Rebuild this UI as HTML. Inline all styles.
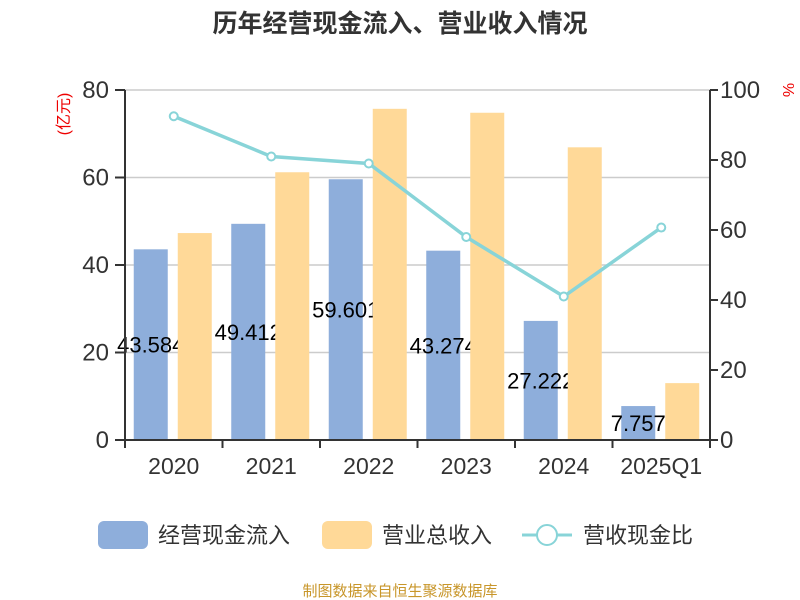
<!DOCTYPE html>
<html><head><meta charset="utf-8"><style>body{margin:0;background:#fff}svg{display:block;font-family:"Liberation Sans","Noto Sans CJK SC",sans-serif}</style></head>
<body>
<svg id="c" width="800" height="600">
<text x="400" y="32" text-anchor="middle" font-size="25" font-weight="bold" fill="#333">历年经营现金流入、营业收入情况</text>
<text transform="translate(69,114) rotate(-90)" text-anchor="middle" font-size="16" fill="#e00">(亿元)</text>
<text transform="translate(783,90) rotate(90)" text-anchor="middle" font-size="16" fill="#e00">%</text>
<g id="grid"></g><g id="bars"></g><g id="line"></g><g id="axes"></g>
<g>
<rect x="98" y="521" width="50" height="28" rx="6" fill="#8eaedb"/>
<text x="158" y="543" font-size="22" fill="#333">经营现金流入</text>
<rect x="322" y="521" width="50" height="28" rx="6" fill="#ffd998"/>
<text x="382" y="543" font-size="22" fill="#333">营业总收入</text>
<line x1="522" y1="535" x2="572" y2="535" stroke="#88d4d8" stroke-width="3"/>
<circle cx="547" cy="535" r="10" fill="#fff" stroke="#88d4d8" stroke-width="2"/>
<text x="583" y="543" font-size="22" fill="#333">营收现金比</text>
</g>
<text x="400" y="596" text-anchor="middle" font-size="15" fill="#c8962a">制图数据来自恒生聚源数据库</text>
</svg>
<script>
const categories=["2020","2021","2022","2023","2024","2025Q1"];
const cashIn=[43.584,49.412,59.601,43.274,27.222,7.757];
const revenue=[47.3,61.2,75.7,74.8,66.9,13.0];
const ratio=[92.5,81,79,58,41,60.7];
const leftTicks=[0,20,40,60,80];
const rightTicks=[0,20,40,60,80,100];
const NS="http://www.w3.org/2000/svg";
const X0=125,X1=710,Y0=440,Y1=90,bw=(X1-X0)/categories.length;
const yL=v=>Y0-(Y0-Y1)*v/80, yR=v=>Y0-(Y0-Y1)*v/100, xC=i=>X0+bw*(i+0.5);
function mk(t,a,p){const e=document.createElementNS(NS,t);for(const k in a)e.setAttribute(k,a[k]);document.getElementById(p).appendChild(e);return e;}
leftTicks.forEach(v=>{const l=mk('line',{x1:X0,x2:X1,y1:yL(v),y2:yL(v),stroke:'#ccc','stroke-width':1.5},'grid');


const t=mk('text',{x:X0-16,y:yL(v)+8,'text-anchor':'end','font-size':24,fill:'#333'},'axes');t.textContent=v;


mk('line',{x1:X0-10,x2:X0,y1:yL(v),y2:yL(v),stroke:'#333','stroke-width':2},'axes');});
rightTicks.forEach(v=>{const t=mk('text',{x:X1+10,y:yR(v)+8,'font-size':24,fill:'#333'},'axes');t.textContent=v;


mk('line',{x1:X1,x2:X1+8,y1:yR(v),y2:yR(v),stroke:'#333','stroke-width':2},'axes');});
mk('line',{x1:X0,x2:X0,y1:Y1,y2:Y0,stroke:'#333','stroke-width':2},'axes');
mk('line',{x1:X1,x2:X1,y1:Y1,y2:Y0,stroke:'#333','stroke-width':2},'axes');
mk('line',{x1:X0-10,x2:X1,y1:Y0,y2:Y0,stroke:'#333','stroke-width':2},'axes');
for(let i=0;i<=categories.length;i++)mk('line',{x1:X0+bw*i,x2:X0+bw*i,y1:Y0,y2:Y0+8,stroke:'#333','stroke-width':2},'axes');
categories.forEach((c,i)=>{const t=mk('text',{x:xC(i),y:474,'text-anchor':'middle','font-size':23,fill:'#333'},'axes');t.textContent=c;

});
cashIn.forEach((v,i)=>{const b=mk('rect',{x:xC(i)-40,y:yL(v),width:34,height:Y0-yL(v),fill:'#8eaedb'},'bars');


const t=mk('text',{x:xC(i)-23,y:(yL(v)+Y0)/2+8,'text-anchor':'middle','font-size':22,fill:'#000'},'bars');t.textContent=v.toFixed(3);

});
revenue.forEach((v,i)=>{const b=mk('rect',{x:xC(i)+4,y:yL(v),width:34,height:Y0-yL(v),fill:'#ffd998'},'bars');

});
const pl=mk('polyline',{points:ratio.map((v,i)=>xC(i)+','+yR(v)).join(' '),fill:'none',stroke:'#88d4d8','stroke-width':3.5},'line');


ratio.forEach((v,i)=>{const c=mk('circle',{cx:xC(i),cy:yR(v),r:4,fill:'#fff',stroke:'#88d4d8','stroke-width':2},'line');

});
</script>
</body></html>
